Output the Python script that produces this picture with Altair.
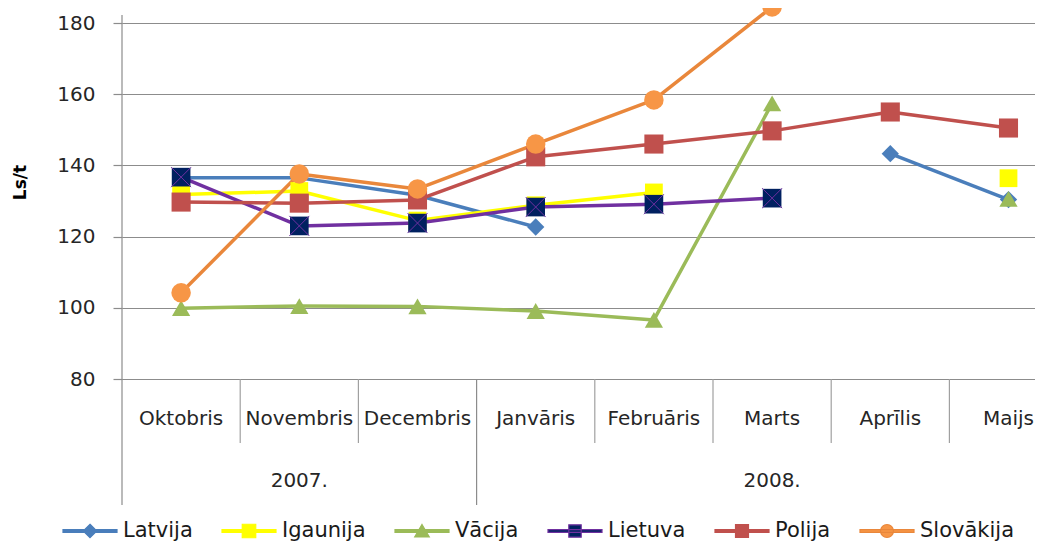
import altair as alt
import pandas as pd

# ---------------- data ----------------
months = ["Oktobris", "Novembris", "Decembris", "Janvāris", "Februāris", "Marts", "Aprīlis", "Maijs"]
year_labels = ["2007.", "2008."]
months_per_year = [3, 5]
series_names = ["Latvija", "Igaunija", "Vācija", "Lietuva", "Polija", "Slovākija"]

latvija = [136.5, 136.5, 131.6, 122.7, None, None, 143.3, 130.4]
igaunija = [131.8, 132.8, 124.5, 128.8, 132.4, None, None, 136.4]
vacija = [99.9, 100.5, 100.4, 99.1, 96.6, 157.4, None, 130.6]
lietuva = [136.7, 123.0, 123.8, 128.3, 129.1, 130.8, None, None]
polija = [129.7, 129.4, 130.3, 142.4, 146.0, 149.7, 155.0, 150.5]
slovakija = [104.2, 137.6, 133.4, 146.0, 158.4, 184.5, None, None]
series_values = [latvija, igaunija, vacija, lietuva, polija, slovakija]

y_ticks = [80, 100, 120, 140, 160, 180]

# ---------------- styles ----------------
line_colors = ["#4A7EBB", "#FFFF00", "#9BBB59", "#7030A0", "#C0504D", "#E9873B"]
marker_colors = ["#4A7EBB", "#FFFF00", "#9BBB59", "#002060", "#C0504D", "#F79646"]
marker_shapes = ["diamond", "square", "triangle-up", "square", "square", "circle"]
marker_sizes = [300, 380, 460, 400, 400, 361]
BAR = "M-1,-0.05H1V0.05H-1Z"
legend_shapes = [
    BAR + "M0,-0.25L0.25,0L0,0.25L-0.25,0Z",
    BAR + "M-0.25,-0.25H0.25V0.25H-0.25Z",
    BAR + "M0,-0.24L0.27,0.22L-0.27,0.22Z",
    BAR + "M-0.23,-0.23H0.23V0.23H-0.23Z",
    BAR + "M-0.24,-0.24H0.24V0.24H-0.24Z",
    BAR + "M0.24,0A0.24,0.24 0 1,1 -0.24,0A0.24,0.24 0 1,1 0.24,0Z",
]
FONT = "DejaVu Sans"
GRID = "#8c8c8c"
TEXT = "#262626"

# ---------------- tables ----------------
rows = []
for name, vals in zip(series_names, series_values):
    seg, prev = 0, False
    for i, (m, v) in enumerate(zip(months, vals)):
        if v is None:
            prev = False
            continue
        if not prev:
            seg += 1
        prev = True
        rows.append({"month": m, "value": v, "series": name,
                     "seg": f"{name}-{seg}", "order": i})
df = pd.DataFrame(rows)
legend_df = pd.DataFrame({"legend_series": series_names})

year_starts, year_mids = [], []
start = 0
for cnt in months_per_year:
    year_starts.append(months[start])
    year_mids.append(months[start + cnt // 2])
    start += cnt
years_df = pd.DataFrame({"year": year_labels, "mid": year_mids})
border_df = pd.DataFrame({"month": [months[0]]})
yearsep_df = pd.DataFrame({"month": year_starts[1:]})
monthsep_df = pd.DataFrame({"month": [m for m in months if m not in year_starts]})

# ---------------- scales / axes ----------------
xscale = alt.Scale(type="band", domain=months, range=[0, 945.6], paddingInner=0, paddingOuter=0)
xaxis = alt.Axis(title=None, ticks=False, tickSize=0, grid=False, domain=True,
                 domainColor=GRID, domainWidth=1.2, labelFont=FONT, labelFontSize=20,
                 labelColor=TEXT, labelPadding=29, labelAngle=0, labelOverlap=False)
yscale = alt.Scale(domain=[80, 180], nice=False, zero=False)
yaxis = alt.Axis(values=y_ticks, grid=True, gridColor=GRID, gridWidth=1.2, domain=False,
                 ticks=True, tickSize=9, tickColor=GRID, tickWidth=1.2,
                 labelFont=FONT, labelFontSize=20, labelColor=TEXT, labelPadding=18,
                 title="Ls/t", titleFont=FONT, titleFontSize=17, titleFontWeight="bold",
                 titleColor="#000000", titlePadding=27, titleY=159)

x_enc = alt.X("month:N", scale=xscale, axis=xaxis, bandPosition=0.5)
y_enc = alt.Y("value:Q", scale=yscale, axis=yaxis)

legend = alt.Legend(orient="none", legendX=-60, legendY=480, direction="horizontal",
                    title=None, symbolSize=2916, symbolStrokeWidth=1.2,
                    labelFont=FONT, labelFontSize=21, labelColor="#1a1a1a",
                    labelOffset=5, columnPadding=26, padding=0)

# ---------------- layers ----------------
border = alt.Chart(border_df).mark_rule(color=GRID, strokeWidth=1.2).encode(
    x=alt.X("month:N", scale=xscale, axis=xaxis, bandPosition=0),
    y=alt.value(-8), y2=alt.value(482))
yearsep = alt.Chart(yearsep_df).mark_rule(color=GRID, strokeWidth=1.2).encode(
    x=alt.X("month:N", scale=xscale, axis=xaxis, bandPosition=0),
    y=alt.value(356), y2=alt.value(482))
monthsep = alt.Chart(monthsep_df).mark_rule(color="#a0a0a0", strokeWidth=1.2).encode(
    x=alt.X("month:N", scale=xscale, axis=xaxis, bandPosition=0),
    y=alt.value(356), y2=alt.value(420))

lines = alt.Chart(df).mark_line(strokeWidth=3.5, strokeJoin="round").encode(
    x=x_enc, y=y_enc,
    stroke=alt.Stroke("series:N", scale=alt.Scale(domain=series_names, range=line_colors),
                      legend=None),
    detail="seg:N", order="order:Q")

points = alt.Chart(df).mark_point(filled=True, opacity=1, strokeWidth=0).encode(
    x=x_enc, y=y_enc,
    fill=alt.Fill("series:N", scale=alt.Scale(domain=series_names, range=marker_colors),
                  legend=None),
    shape=alt.Shape("series:N", scale=alt.Scale(domain=series_names, range=marker_shapes),
                    legend=None),
    size=alt.Size("series:N", scale=alt.Scale(domain=series_names, range=marker_sizes),
                  legend=None))

cross = alt.Chart(df).transform_filter(alt.datum.series == "Lietuva").mark_point(
    shape="M-1,-1L1,1M-1,1L1,-1", filled=False, stroke="#7030A0", strokeWidth=1,
    size=400, opacity=1).encode(x=x_enc, y=y_enc)

years = alt.Chart(years_df).mark_text(font=FONT, fontSize=20, color=TEXT,
                                      baseline="middle", align="center").encode(
    x=alt.X("mid:N", scale=xscale, axis=xaxis, bandPosition=0.5),
    y=alt.value(458), text="year:N")

legend_layer = alt.Chart(legend_df).transform_filter("false").mark_point(
    filled=True, opacity=1).encode(
    fill=alt.Fill("legend_series:N", scale=alt.Scale(domain=series_names, range=marker_colors),
                  legend=legend),
    stroke=alt.Stroke("legend_series:N", scale=alt.Scale(domain=series_names, range=line_colors),
                      legend=legend),
    shape=alt.Shape("legend_series:N", scale=alt.Scale(domain=series_names, range=legend_shapes),
                    legend=legend))

chart = alt.layer(border, yearsep, monthsep, lines, points, cross, years, legend_layer).resolve_scale(
    fill="independent", stroke="independent", shape="independent"
).properties(
    width=913, height=356,
    autosize=alt.AutoSizeParams(type="none"),
    padding={"left": 114, "top": 15, "right": 0, "bottom": 165},
).configure_view(stroke=None)

chart.save("out.html", embed_options={"renderer": "svg", "actions": False})
